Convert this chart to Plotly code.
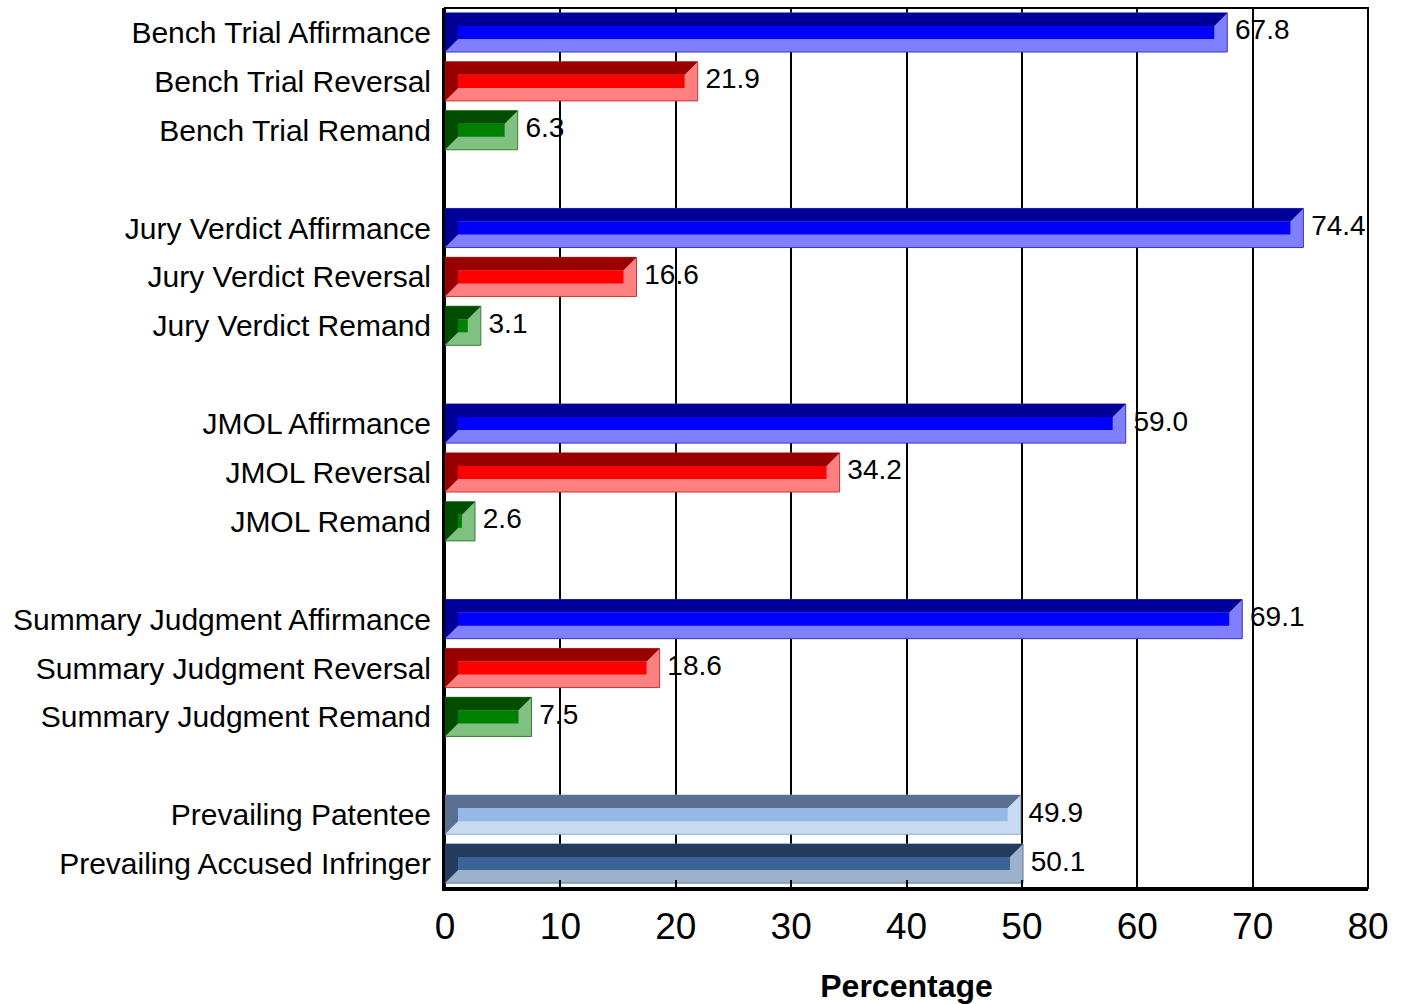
import plotly.graph_objects as go

# ---- data ----
categories = [
    "Bench Trial Affirmance", "Bench Trial Reversal", "Bench Trial Remand",
    "Jury Verdict Affirmance", "Jury Verdict Reversal", "Jury Verdict Remand",
    "JMOL Affirmance", "JMOL Reversal", "JMOL Remand",
    "Summary Judgment Affirmance", "Summary Judgment Reversal", "Summary Judgment Remand",
    "Prevailing Patentee", "Prevailing Accused Infringer",
]
values = [67.8, 21.9, 6.3, 74.4, 16.6, 3.1, 59.0, 34.2, 2.6, 69.1, 18.6, 7.5, 49.9, 50.1]
group_sizes = [3, 3, 3, 3, 2]
kinds = ["aff", "rev", "rem", "aff", "rev", "rem", "aff", "rev", "rem",
         "aff", "rev", "rem", "pat", "inf"]
x_ticks = [0, 10, 20, 30, 40, 50, 60, 70, 80]

# colours: (dark, bright, light, outline)
palette = {
    "aff": ("#000099", "#0000FF", "#8080FF", "#3333CC"),
    "rev": ("#990000", "#FF0000", "#FF8080", "#CC3333"),
    "rem": ("#004C00", "#008000", "#80C080", "#338033"),
    "pat": ("#5A7090", "#95B9E3", "#C6DAF0", "#8FA8C8"),
    "inf": ("#233B5C", "#3A6496", "#9DB1CB", "#5C7698"),
}

# slot positions with a blank slot between groups
positions = []
p = 0
for g in group_sizes:
    for _ in range(g):
        positions.append(p)
        p += 1
    p += 1
last_slot = positions[-1]

BAR_W = 0.8
BEV_X = 1.13   # bevel depth in x units
BEV_Y = 0.266  # bevel depth in slot units

fig = go.Figure()

fig.add_trace(go.Bar(
    x=values, y=positions, orientation="h", width=BAR_W,
    marker=dict(color=[palette[k][2] for k in kinds],
                line=dict(color=[palette[k][3] for k in kinds], width=1)),
    hoverinfo="skip", showlegend=False,
))

fig.add_trace(go.Scatter(
    x=values, y=positions, mode="text",
    text=[f" {v:.1f}" for v in values], textposition="middle right",
    textfont=dict(family="Liberation Sans, Arial", size=28, color="black"),
    hoverinfo="skip", showlegend=False,
))

shapes = []
for v, y, k in zip(values, positions, kinds):
    dark, bright, light, outline = palette[k]
    top = y - BAR_W / 2
    bot = y + BAR_W / 2
    path = (f"M 0,{top} L {v},{top} L {v-BEV_X},{top+BEV_Y} L {BEV_X},{top+BEV_Y} "
            f"L {BEV_X},{bot-BEV_Y} L 0,{bot} Z")
    shapes.append(dict(type="path", path=path, xref="x", yref="y",
                       fillcolor=dark, line=dict(width=0), layer="above"))
    shapes.append(dict(type="rect", xref="x", yref="y",
                       x0=BEV_X, x1=v - BEV_X, y0=top + BEV_Y, y1=bot - BEV_Y,
                       fillcolor=bright, line=dict(width=0), layer="above"))

# thin frame on top/right
shapes.append(dict(type="rect", xref="paper", yref="paper", x0=0, x1=1, y0=0, y1=1,
                   line=dict(color="black", width=2), fillcolor="rgba(0,0,0,0)",
                   layer="below"))

fig.update_layout(
    width=1407, height=1004,
    margin=dict(l=445, r=39, t=8, b=116),
    paper_bgcolor="white", plot_bgcolor="white",
    font=dict(family="Liberation Sans, Arial", color="black"),
    shapes=shapes,
    bargap=0.2,
)

fig.update_xaxes(
    range=[0, 80], tickvals=x_ticks, ticktext=[str(t) for t in x_ticks],
    showgrid=True, gridcolor="black", gridwidth=2,
    showline=True, linecolor="black", linewidth=3, mirror=False,
    ticks="inside", ticklen=8, tickwidth=2, tickcolor="black",
    tickfont=dict(size=37, color="black"), ticklabelstandoff=4,
    zeroline=False, automargin=False,
    title=dict(text="<b>Percentage</b>", font=dict(size=32, color="black"), standoff=30),
)
fig.update_yaxes(
    range=[last_slot + 0.5, -0.5], tickvals=positions, ticktext=categories,
    showgrid=False, showline=True, linecolor="black", linewidth=3, mirror=False,
    ticks="", tickfont=dict(size=30, color="black"), ticklabelstandoff=5,
    zeroline=False, automargin=False,
)

fig.write_html("out.html", config={"displayModeBar": False},
               post_script="document.body.style.margin='0';")
